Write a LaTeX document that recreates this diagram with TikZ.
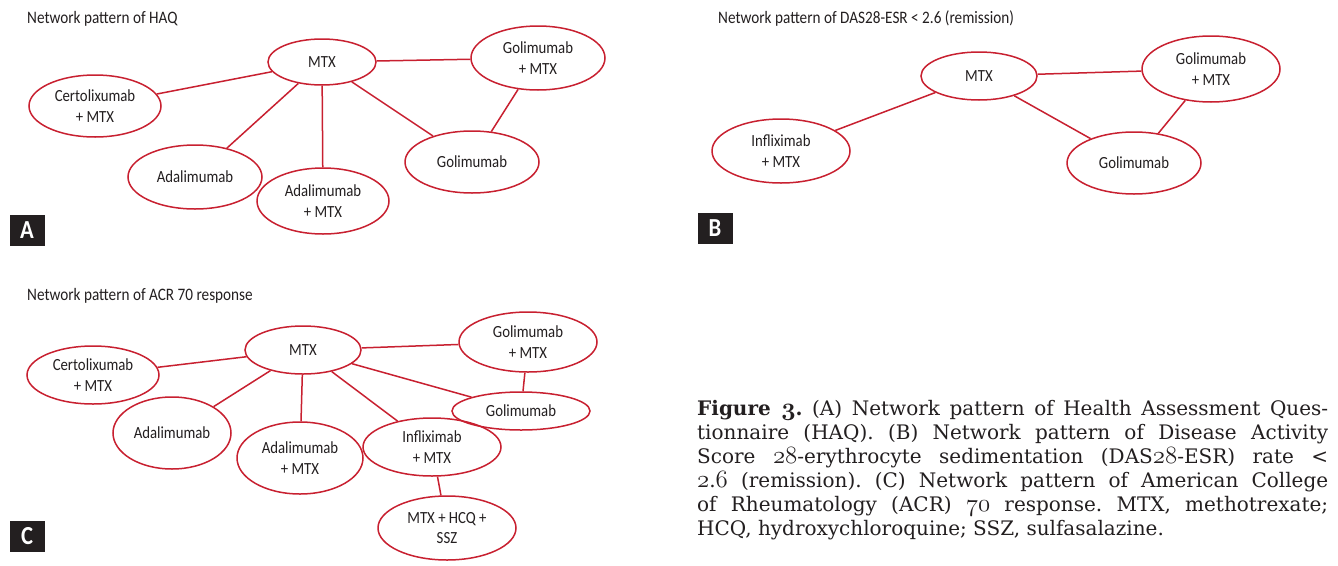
\documentclass[tikz,border=0pt]{standalone}
\usepackage{fontspec}
\usetikzlibrary{shapes.geometric}
\newfontfamily\lbl{Carlito}[FakeStretch=0.87]
\newfontfamily\capfont{DejaVu Serif}
\definecolor{netred}{RGB}{200,32,48}
\definecolor{ink}{RGB}{35,31,32}
\newcommand\osd[1]{{\fontencoding{OML}\fontfamily{cmm}\fontseries{m}\fontshape{it}\fontsize{24}{24}\selectfont #1}}
\newcommand\osdb[1]{{\fontencoding{OML}\fontfamily{cmm}\fontseries{b}\fontshape{it}\fontsize{24}{24}\selectfont #1}}
\frenchspacing
\begin{document}
\begin{tikzpicture}[x=1pt,y=-1pt,
  nd/.style={ellipse, draw=netred, line width=1.5pt, inner sep=0pt, align=center,
    font=\lbl\fontsize{17}{20.5}\selectfont, text=ink},
  edge/.style={draw=netred, line width=1.5pt},
  ttl/.style={anchor=west, inner sep=0pt, font=\lbl\fontsize{17.5}{19}\selectfont, text=ink},
  tag/.style={fill=ink, text=white, minimum width=35pt, minimum height=31pt, inner sep=0pt,
    font=\lbl\bfseries\fontsize{26}{26}\selectfont},
  capline/.style={anchor=base west, inner sep=0pt, font=\capfont\fontsize{20}{24}\selectfont, text=ink}]
\useasboundingbox[fill=white] (0,0) rectangle (1338,565);

% ---------- Panel A ----------
\node[ttl] (tA) at (27,19) {Network pattern of HAQ};
\node[nd, minimum width=108pt, minimum height=46pt] (aM) at (322,62) {MTX};
\node[nd, minimum width=134pt, minimum height=64pt] (aGM) at (538,58) {Golimumab\\+ MTX};
\node[nd, minimum width=132pt, minimum height=62pt] (aC) at (95,106) {Certolixumab\\+ MTX};
\node[nd, minimum width=134pt, minimum height=64pt] (aA) at (195,177) {Adalimumab};
\node[nd, minimum width=132pt, minimum height=66pt] (aAM) at (323,201) {Adalimumab\\+ MTX};
\node[nd, minimum width=134pt, minimum height=62pt] (aG) at (472,162) {Golimumab};
\node[tag] (lA) at (27,230) {A};
\draw[edge] (aM) -- (aC);
\draw[edge] (aM) -- (aGM);
\draw[edge] (aM) -- (aA);
\draw[edge] (aM) -- (aAM);
\draw[edge] (aM) -- (aG);
\draw[edge] (aGM) -- (aG);

% ---------- Panel B ----------
\node[ttl] (tB) at (718,19) {Network pattern of DAS28-ESR < 2.6 (remission)};
\node[nd, minimum width=116pt, minimum height=48pt] (bM) at (979,76) {MTX};
\node[nd, minimum width=138pt, minimum height=66pt] (bGM) at (1211,69) {Golimumab\\+ MTX};
\node[nd, minimum width=138pt, minimum height=64pt] (bI) at (781,151) {Infliximab\\+ MTX};
\node[nd, minimum width=134pt, minimum height=62pt] (bG) at (1134,163) {Golimumab};
\node[tag] (lB) at (715,228) {B};
\draw[edge] (bM) -- (bI);
\draw[edge] (bM) -- (bGM);
\draw[edge] (bM) -- (bG);
\draw[edge] (bGM) -- (bG);

% ---------- Panel C ----------
\node[ttl] (tC) at (27,296) {Network pattern of ACR 70 response};
\node[nd, minimum width=116pt, minimum height=48pt] (cM) at (303,350) {MTX};
\node[nd, minimum width=138pt, minimum height=60pt] (cGM) at (528,342) {Golimumab\\+ MTX};
\node[nd, minimum width=132pt, minimum height=58pt] (cC) at (93,375) {Certolixumab\\+ MTX};
\node[nd, minimum width=138pt, minimum height=38pt] (cG) at (521,411) {Golimumab};
\node[nd, minimum width=118pt, minimum height=72pt] (cA) at (172,433) {Adalimumab};
\node[nd, minimum width=126pt, minimum height=72pt] (cAM) at (300,458) {Adalimumab\\+ MTX};
\node[nd, minimum width=138pt, minimum height=58pt] (cI) at (432,447) {Infliximab\\+ MTX};
\node[nd, minimum width=138pt, minimum height=64pt] (cH) at (447,528) {MTX + HCQ +\\SSZ};
\node[tag] (lC) at (27,536) {C};
\draw[edge] (cM) -- (cC);
\draw[edge] (cM) -- (cA);
\draw[edge] (cM) -- (cAM);
\draw[edge] (cM) -- (cI);
\draw[edge] (cM) -- (cG);
\draw[edge] (cM) -- (cGM);
\draw[edge] (cGM) -- (cG);
\draw[edge] (cI) -- (cH);

% ---------- Caption ----------
\node[capline] (k1) at (697,415) {\makebox[631pt][s]{\textbf{Figure \osdb{3}.} (A) Network pattern of Health Assessment Ques-}};
\node[capline] (k2) at (697,439) {\makebox[631pt][s]{tionnaire (HAQ). (B) Network pattern of Disease Activity}};
\node[capline] (k3) at (697,463) {\makebox[631pt][s]{Score \osd{28}-erythrocyte sedimentation (DAS\osd{28}-ESR) rate <}};
\node[capline] (k4) at (697,487) {\makebox[631pt][s]{\osd{2}.\osd{6} (remission). (C) Network pattern of American College}};
\node[capline] (k5) at (697,511) {\makebox[631pt][s]{of Rheumatology (ACR) \osd{70} response. MTX, methotrexate;}};
\node[capline] (k6) at (697,535) {HCQ, hydroxychloroquine; SSZ, sulfasalazine.};
\end{tikzpicture}
\end{document}
